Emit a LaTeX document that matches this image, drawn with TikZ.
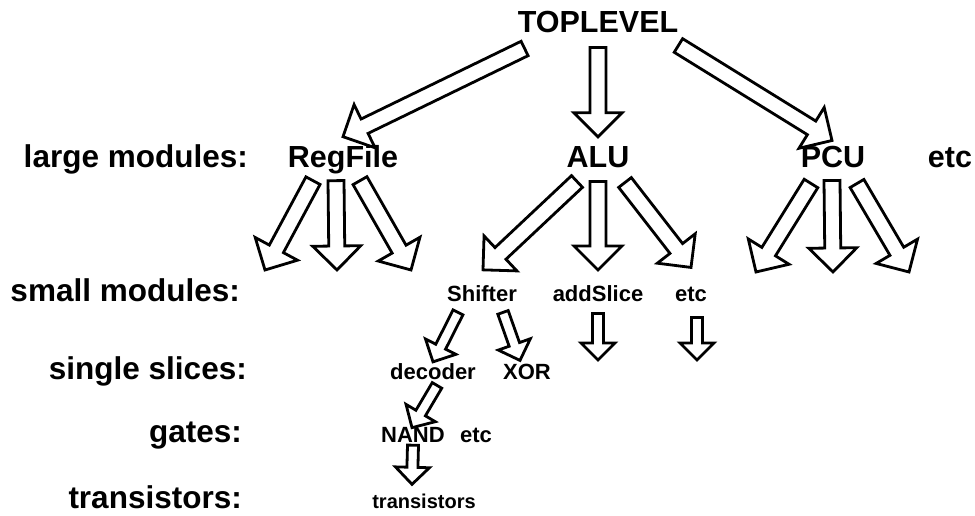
\documentclass[tikz,border=0pt]{standalone}
\usepackage{fontspec}
\setmainfont{Liberation Sans}
\usetikzlibrary{calc}
\tikzset{
	blk shaft/.store in=\blkshaft,
	blk head/.store in=\blkhead,
	blk len/.store in=\blklen,
	hollow/.style={draw, fill=white, line width=2.8pt, line join=miter,
		to path={
			($(\tikztostart)!\blkshaft!90:(\tikztotarget)$)
			-- ($(\tikztotarget)!\blklen!(\tikztostart)!\blkshaft!-90:(\tikztostart)$)
			-- ($(\tikztotarget)!\blklen!(\tikztostart)!\blkhead!-90:(\tikztostart)$)
			-- (\tikztotarget)
			-- ($(\tikztotarget)!\blklen!(\tikztostart)!\blkhead!90:(\tikztostart)$)
			-- ($(\tikztotarget)!\blklen!(\tikztostart)!\blkshaft!90:(\tikztostart)$)
			-- ($(\tikztostart)!\blkshaft!-90:(\tikztotarget)$)
			-- cycle}},
	bigarrow/.style={hollow, blk shaft=8pt, blk head=24pt, blk len=24pt},
	smallarrow/.style={hollow, blk shaft=5.5pt, blk head=17pt, blk len=17pt},
	tier/.style={font=\fontsize{31.5}{36}\selectfont\bfseries, inner sep=0pt, anchor=base east},
	modname/.style={font=\fontsize{30.5}{36}\selectfont\bfseries, inner sep=0pt, anchor=base},
	partname/.style={font=\fontsize{22}{26}\selectfont\bfseries, inner sep=0pt, anchor=base},
	leafname/.style={font=\fontsize{20}{24}\selectfont\bfseries, inner sep=0pt, anchor=base},
}

\begin{document}
\begin{tikzpicture}[x=1pt,y=1pt]
	\useasboundingbox (0,0) rectangle (975,516);
	% levels
	\node[tier] (l1) at (248,348) {large modules:};
	\node[tier] (l2) at (240,214) {small modules:};
	\node[tier] (l3) at (247,136) {single slices:};
	\node[tier] (l4) at (242,73) {gates:};
	\node[tier] (l5) at (242,7) {transistors:};
	% hierarchy
	\node[modname] (top) at (598,483) {TOPLEVEL};
	\node[modname] (reg) at (343,348) {RegFile};
	\node[modname] (alu) at (598,348) {ALU};
	\node[modname] (pcu) at (833,348) {PCU};
	\node[modname] (etcA) at (950,348) {etc};
	\node[partname] (shifter) at (482,214) {Shifter};
	\node[partname] (addslice) at (598,214) {addSlice};
	\node[partname] (etcB) at (691,214) {etc};
	\node[partname] (decoder) at (433,136) {decoder};
	\node[partname] (xor) at (527,136) {XOR};
	\node[partname] (nand) at (413,73) {NAND};
	\node[partname] (etcC) at (476,73) {etc};
	\node[leafname] (trans) at (424,7) {transistors};
	% open ends
	\coordinate (regA) at (265,246);
	\coordinate (regB) at (337,246);
	\coordinate (regC) at (411,246);
	\coordinate (aluB) at (598,246);
	\coordinate (pcuA) at (756,244);
	\coordinate (pcuB) at (833,244);
	\coordinate (pcuC) at (909,244);
	\coordinate (addEnd) at (598,156);
	\coordinate (etcEnd) at (697,156);
	% arrows
	\draw[bigarrow] ([xshift=7pt,yshift=-15pt]top.south west) to ([yshift=9pt]reg.north);
	\draw[bigarrow] ([yshift=-14pt]top.south) to ([yshift=10pt]alu.north);
	\draw[bigarrow] ([yshift=-12pt]top.south east) to ([xshift=-1pt,yshift=6pt]pcu.north);
	\foreach \dx/\tip in {-30/regA,-7/regB,17/regC}
	\draw[bigarrow] ([xshift=\dx pt,yshift=-6pt]reg.south) to (\tip);
	\foreach \dx/\dy/\tip in {-22/-15/pcuA,-1/-12/pcuB,24/-15/pcuC}
	\draw[bigarrow] ([xshift=\dx pt,yshift=\dy pt]pcu.south) to (\tip);
	\draw[bigarrow] ([xshift=-21pt,yshift=-13pt]alu.south) to ([xshift=1pt,yshift=16pt]shifter.north);
	\draw[bigarrow] ([yshift=-13pt]alu.south) to (aluB);
	\draw[bigarrow] ([xshift=27pt,yshift=-14pt]alu.south) to ([yshift=20pt]etcB.north);
	\draw[smallarrow] ([xshift=-24pt,yshift=-10pt]shifter.south) to ([yshift=2pt]decoder.north);
	\draw[smallarrow] ([xshift=21pt,yshift=-10pt]shifter.south) to ([xshift=-7pt,yshift=4pt]xor.north);
	\draw[smallarrow] ([yshift=-11pt]addslice.south) to (addEnd);
	\draw[smallarrow] ([xshift=6pt,yshift=-15pt]etcB.south) to (etcEnd);
	\draw[smallarrow] ([xshift=4pt,yshift=-5pt]decoder.south) to ([xshift=-1pt]nand.north);
	\draw[smallarrow] ([yshift=-2pt]nand.south) to ([xshift=-12pt,yshift=10pt]trans.north);
\end{tikzpicture}
\end{document}
